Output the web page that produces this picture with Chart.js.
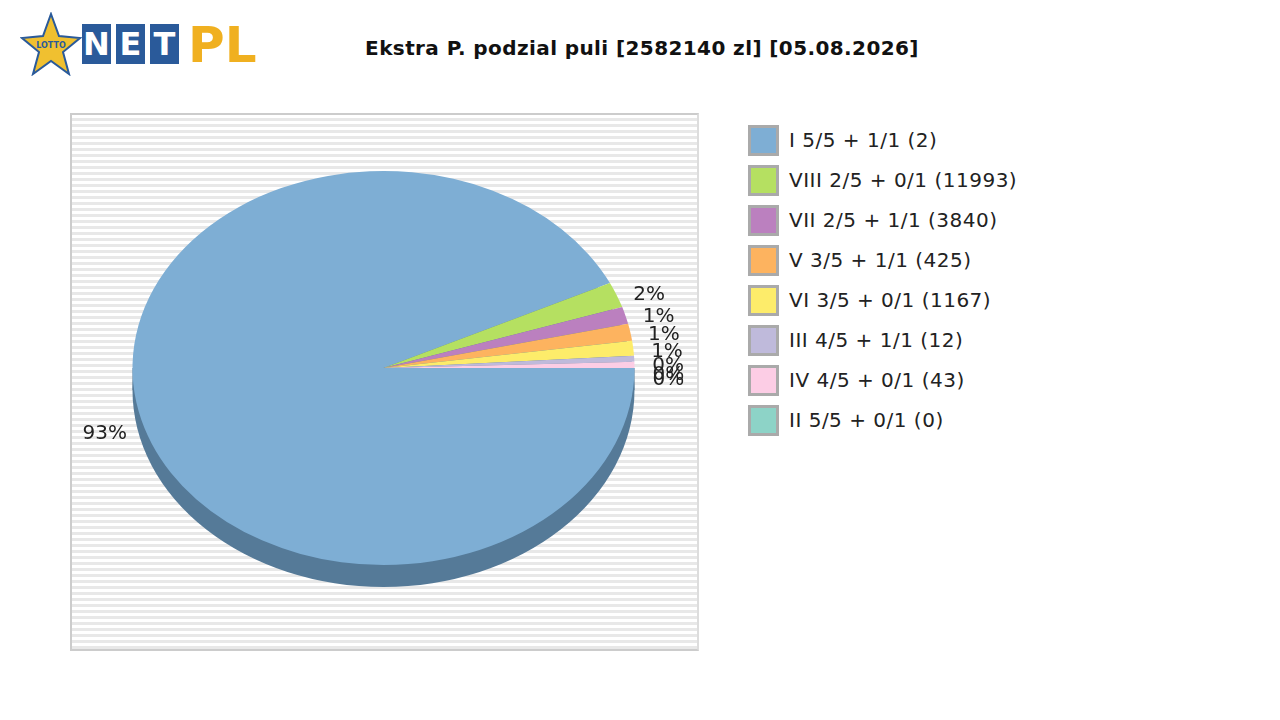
<!DOCTYPE html>
<html><head><meta charset="utf-8">
<script src="https://cdn.jsdelivr.net/npm/chart.js@4"></script>
<style>
body{margin:0;width:1280px;height:720px;background:#fff;font-family:"DejaVu Sans",sans-serif;position:relative;overflow:hidden}
#title{position:absolute;left:0;width:1280px;top:36px;text-align:center;font-weight:bold;font-size:20px;letter-spacing:0.4px;color:#111;padding-left:2px}
#plot{position:absolute;left:70px;top:113px;width:625px;height:534px;border:2px solid #ccc;border-right-color:#ddd;
background:repeating-linear-gradient(#fff 0 3px,#e8e8e8 3px 6px)}
#wrap{position:absolute;left:70px;top:113px;width:627px;height:536px}
#legend{position:absolute;left:748px;top:120px;font-size:20px;letter-spacing:0.5px;color:#222}
.li{height:40px;display:flex;align-items:center}
.sw{width:31px;height:31px;border:3px solid #aaa;box-sizing:border-box;margin-right:10px}
#logo{position:absolute;left:20px;top:12px;height:60px;width:250px}
.bx{position:absolute;top:12px;width:29px;height:40px;background:#2a5a9a;color:#fff;font-weight:bold;font-size:32px;line-height:40px;text-align:center;font-family:"DejaVu Sans"}
</style></head><body>
<div id="logo">
<svg width="62" height="64" style="position:absolute;left:0;top:0"><polygon points="31,2 39,24 60,26 43,40 49,62 31,49 13,62 19,40 2,26 23,24" fill="#f0c030" stroke="#2a5a9a" stroke-width="2"/><text x="31" y="36" font-size="8" text-anchor="middle" fill="#2a5a9a" font-weight="bold">LOTTO</text></svg>
<div class="bx" style="left:62px">N</div><div class="bx" style="left:96px">E</div><div class="bx" style="left:130px">T</div>
<div style="position:absolute;left:168px;top:4px;font-size:50px;font-weight:bold;color:#f0b020;font-family:'DejaVu Sans'">PL</div>
</div>
<div id="title">Ekstra P. podzial puli [2582140 zl] [05.08.2026]</div>
<div id="plot"></div>
<div id="wrap"><canvas id="c"></canvas></div>
<div id="legend"></div>
<script>
const categories=["I 5/5 + 1/1 (2)","VIII 2/5 + 0/1 (11993)","VII 2/5 + 1/1 (3840)","V 3/5 + 1/1 (425)","VI 3/5 + 0/1 (1167)","III 4/5 + 1/1 (12)","IV 4/5 + 0/1 (43)","II 5/5 + 0/1 (0)"];
const values=[92.9,2.1,1.4,1.4,1.2,0.5,0.5,0];
const pctLabels=["93%","2%","1%","1%","1%","0%","0%","0%"];
const colors=["#7eaed4","#b5e061","#bb80bf","#fdb35f","#fdec6a","#bfbadb","#fccde5","#8dd3c7"];
const SY=197/251, DEPTH=22;
document.getElementById('legend').innerHTML=categories.map((c,i)=>`<div class="li"><div class="sw" style="background:${colors[i]}"></div>${c}</div>`).join('');
const ell={id:'ell',
beforeDatasetsDraw(ch){const a=ch.getDatasetMeta(0).data[0];const ctx=ch.ctx;
 ctx.save();ctx.fillStyle='#557a98';ctx.beginPath();ctx.ellipse(a.x,a.y+DEPTH,a.outerRadius,a.outerRadius*SY,0,0,Math.PI*2);ctx.fill();
 ctx.fillRect(a.x-a.outerRadius,a.y,a.outerRadius*2,DEPTH);
 ctx.save();ctx.translate(a.x,a.y);ctx.scale(1,SY);ctx.translate(-a.x,-a.y);},
afterDatasetsDraw(ch){const ctx=ch.ctx;ctx.restore();ctx.restore();
 const meta=ch.getDatasetMeta(0);ctx.save();ctx.font='20px "DejaVu Sans"';ctx.fillStyle='#222';ctx.textBaseline='middle';
 meta.data.forEach((a,i)=>{const m=(a.startAngle+a.endAngle)/2;const r=a.outerRadius+(i===0?12:18);
  const x=a.x+Math.cos(m)*r, y=a.y+Math.sin(m)*r*SY;ctx.textAlign=Math.cos(m)<0?'right':'left';
  let yy=y+(i===0?20:5); if(i>=5) yy=y+(i-5)*2+8; ctx.fillText(pctLabels[i],x,yy);});
 ctx.restore();}};
new Chart(document.getElementById('c'),{type:'pie',
data:{labels:categories,datasets:[{data:values,backgroundColor:colors,borderWidth:0}]},
options:{responsive:true,maintainAspectRatio:false,animation:false,rotation:90,layout:{padding:{top:4,bottom:30}},
plugins:{legend:{display:false},tooltip:{enabled:false}}},plugins:[ell]});
</script></body></html>
